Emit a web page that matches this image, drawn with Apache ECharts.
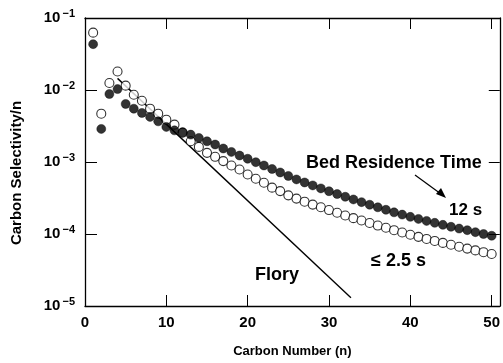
<!DOCTYPE html>
<html>
<head>
<meta charset="utf-8">
<script src="https://cdn.jsdelivr.net/npm/echarts@6/dist/echarts.min.js"></script>
<style>html,body{margin:0;padding:0;background:#fff;}#c{width:503px;height:363px;}</style>
</head>
<body>
<div id="c"></div>
<script>
// Carbon number n = 1..50
var carbonNumbers = [1,2,3,4,5,6,7,8,9,10,11,12,13,14,15,16,17,18,19,20,21,22,23,24,25,26,27,28,29,30,31,32,33,34,35,36,37,38,39,40,41,42,43,44,45,46,47,48,49,50];
// Bed residence time 12 s (filled circles)
var sel12s = [0.0433,0.00288,0.00879,0.0103,0.0064,0.0055,0.0048,0.00423,0.00367,0.00307,0.00275,0.00258,0.00240,0.00216,0.00194,0.00175,0.00154,0.00138,0.00123,0.00111,0.000994,0.000895,0.000800,0.000716,0.000640,0.000573,0.000520,0.000473,0.000430,0.000393,0.000359,0.000329,0.000302,0.000277,0.000255,0.000235,0.000217,0.000200,0.000186,0.000173,0.000162,0.000152,0.000143,0.000134,0.000126,0.000119,0.000113,0.000106,0.000100,0.0000946];
// Bed residence time <= 2.5 s (open circles)
var sel25s = [0.0626,0.00469,0.0125,0.0181,0.0115,0.0086,0.0071,0.0055,0.00469,0.00387,0.0033,0.00256,0.00194,0.00162,0.00134,0.00118,0.00103,0.000895,0.000787,0.000671,0.000585,0.000515,0.000440,0.000394,0.000344,0.000310,0.000281,0.000256,0.000235,0.000215,0.000197,0.000181,0.000166,0.000154,0.000142,0.000131,0.000122,0.000113,0.000105,0.0000976,0.0000913,0.0000854,0.0000801,0.0000752,0.0000708,0.0000666,0.0000627,0.0000592,0.0000559,0.0000528];
// Flory line end points [n, selectivity/n]
var floryN = [4, 32.7];
var floryVal = [0.0145, 0.000013];
var xTicks = [0,10,20,30,40,50];

var font = 'Liberation Sans, Arial, Helvetica, sans-serif';
function pairs(xs, ys){ return xs.map(function(x,i){return [x, ys[i]];}); }

var chart = echarts.init(document.getElementById('c'), null, {renderer:'canvas'});
var axisLineStyle = {color:'#000', width:1.3};
chart.setOption({
  animation:false,
  backgroundColor:'#fff',
  grid:{left:85, right:3, top:18, bottom:56},
  xAxis:[{
    type:'value', min:0, max:51, interval:10,
    axisLine:{show:true, onZero:false, lineStyle:axisLineStyle},
    axisTick:{show:true, inside:true, length:11, lineStyle:{color:'#000', width:1}},
    axisLabel:{fontFamily:font, fontWeight:'bold', fontSize:15, color:'#000', margin:9,
      formatter:function(v){ return xTicks.indexOf(v) >= 0 ? String(v) : ''; }},
    splitLine:{show:false},
    name:'Carbon Number (n)', nameLocation:'middle', nameGap:39,
    nameTextStyle:{fontFamily:font, fontWeight:'bold', fontSize:13, color:'#000'}
  },{
    type:'value', position:'top', min:0, max:51, interval:10,
    axisLine:{show:true, onZero:false, lineStyle:axisLineStyle},
    axisTick:{show:true, inside:true, length:11, lineStyle:{color:'#000', width:1}},
    axisLabel:{show:false}, splitLine:{show:false}
  }],
  yAxis:[{
    type:'log', logBase:10, min:0.00001, max:0.1,
    axisLine:{show:true, onZero:false, lineStyle:axisLineStyle},
    axisTick:{show:true, inside:true, length:12, lineStyle:{color:'#000', width:1}},
    minorTick:{show:false},
    splitLine:{show:false},
    axisLabel:{margin:10, fontFamily:font, fontWeight:'bold', fontSize:15, color:'#000',
      formatter:function(v){
        var e = Math.round(Math.log10(v));
        return '10{sup|−' + (-e) + '}';
      },
      rich:{sup:{fontFamily:font, fontWeight:'bold', fontSize:11, color:'#000', verticalAlign:'top', padding:[0,0,8,2]}}
    }
  },{
    type:'log', logBase:10, min:0.00001, max:0.1, position:'right',
    axisLine:{show:true, onZero:false, lineStyle:axisLineStyle},
    axisTick:{show:true, inside:true, length:11, lineStyle:{color:'#000', width:1}},
    axisLabel:{show:false}, splitLine:{show:false}
  }],
  series:[{
    name:'Flory', type:'line', data:pairs(floryN, floryVal), showSymbol:false, symbol:'none',
    lineStyle:{color:'#000', width:1.4}, z:1
  },{
    name:'≤2.5 s', type:'scatter', data:pairs(carbonNumbers, sel25s), symbol:'circle', symbolSize:9,
    itemStyle:{color:'#fff', borderColor:'#000', borderWidth:1.1}, z:2
  },{
    name:'12 s', type:'scatter', data:pairs(carbonNumbers, sel12s), symbol:'circle', symbolSize:9,
    itemStyle:{color:'#000', borderColor:'#000', borderWidth:0.5}, z:3
  }],
  graphic:[
    {type:'text', x:17, y:173, rotation:Math.PI/2,
      style:{text:'Carbon Selectivity/n', font:'bold 15px '+font, fill:'#000', textAlign:'center', textVerticalAlign:'middle'}},
    {type:'text', x:306, y:163, style:{text:'Bed Residence Time', font:'bold 18px '+font, fill:'#000', textVerticalAlign:'middle'}},
    {type:'text', x:449, y:210, style:{text:'12 s', font:'bold 17px '+font, fill:'#000', textVerticalAlign:'middle'}},
    {type:'text', x:371, y:261, style:{text:'≤ 2.5 s', font:'bold 18px '+font, fill:'#000', textVerticalAlign:'middle'}},
    {type:'text', x:255, y:275, style:{text:'Flory', font:'bold 18px '+font, fill:'#000', textVerticalAlign:'middle'}},
    {type:'line', shape:{x1:415, y1:175, x2:441, y2:194}, style:{stroke:'#000', lineWidth:1.2}},
    {type:'polygon', shape:{points:[[446,198],[436,194],[441,188]]}, style:{fill:'#000'}}
  ]
});
</script>
</body>
</html>
